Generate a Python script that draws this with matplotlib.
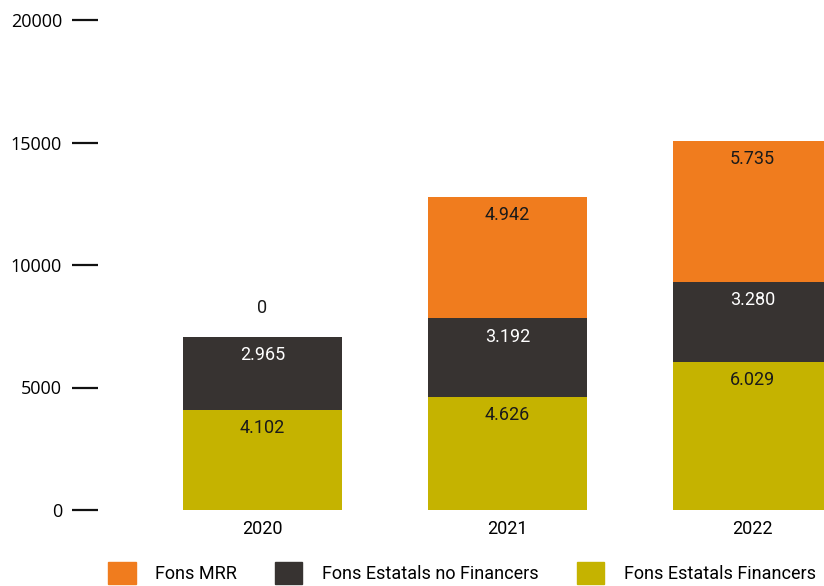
import matplotlib
matplotlib.use("Agg")
import matplotlib.pyplot as plt
import numpy as np
from matplotlib.patches import Patch

years = ["2020", "2021", "2022"]
financers = [4102, 4626, 6029]
no_financers = [2965, 3192, 3280]
mrr = [0, 4942, 5735]
series_names = ["Fons MRR", "Fons Estatals no Financers", "Fons Estatals Financers"]
yticks = [0, 5000, 10000, 15000, 20000]

c_orange = "#F07C1E"
c_dark = "#373331"
c_olive = "#C5B300"

label_font = ["Roboto", "DejaVu Sans"]

fig = plt.figure(figsize=(8.24, 5.86), dpi=100)
ax = fig.add_axes([98/824, 76/586, (824-98)/824, (510-20)/586])

x = np.arange(len(years))
w = 0.65
b1 = ax.bar(x, financers, w, color=c_olive)
b2 = ax.bar(x, no_financers, w, bottom=financers, color=c_dark)
bottom3 = np.array(financers) + np.array(no_financers)
b3 = ax.bar(x, mrr, w, bottom=bottom3, color=c_orange)

def fmt(v):
    return f"{v:,}".replace(",", ".")

for bars, vals, bottoms, col in [
    (b1, financers, [0]*3, "#1a1a1a"),
    (b2, no_financers, financers, "white"),
    (b3, mrr, bottom3, "#1a1a1a"),
]:
    for xi, v, bt in zip(x, vals, bottoms):
        top = bt + v
        if v == 0:
            ax.annotate(fmt(v), (xi, top), xytext=(0, 21), textcoords="offset points",
                        ha="center", va="center", fontsize=13, color="#1a1a1a",
                        family=label_font)
        else:
            ax.annotate(fmt(v), (xi, top), xytext=(0, -13), textcoords="offset points",
                        ha="center", va="center", fontsize=13, color=col,
                        family=label_font)

ax.set_xlim(-0.671, 2.292)
ax.set_ylim(0, 20000)
ax.set_yticks(yticks)
ax.set_yticklabels([str(t) for t in yticks], fontsize=13, family=["Open Sans", "DejaVu Sans"])
ax.tick_params(axis="y", length=19, width=1.6, color="#111111", pad=7)
ax.set_xticks(x)
ax.set_xticklabels(years, fontsize=13, family=label_font)
ax.tick_params(axis="x", length=0, pad=7)
for s in ax.spines.values():
    s.set_visible(False)

handles = [Patch(color=c_orange), Patch(color=c_dark), Patch(color=c_olive)]
leg = ax.legend(handles, series_names, loc="center", bbox_to_anchor=(462/824, 13/586),
                bbox_transform=fig.transFigure, ncol=3, frameon=False,
                prop={"family": label_font, "size": 13},
                handlelength=1.5, handleheight=1.5, handletextpad=1.1, columnspacing=2.1)

fig.savefig("out.png", dpi=100)
